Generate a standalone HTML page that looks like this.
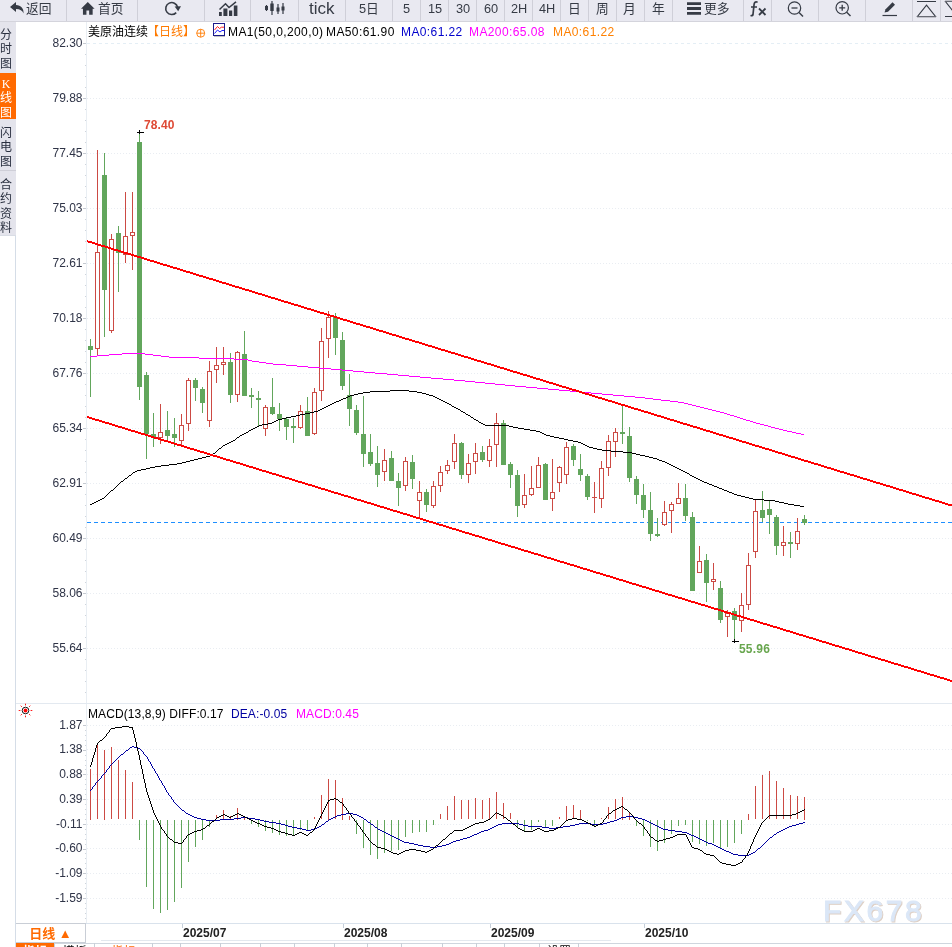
<!DOCTYPE html>
<html lang="zh-CN">
<head>
<meta charset="utf-8">
<title>美原油连续 日线</title>
<style>
html,body{margin:0;padding:0;background:#fff;}
body{width:952px;height:947px;position:relative;overflow:hidden;font-family:"Liberation Sans","Noto Sans CJK SC",sans-serif;color:#333;}
#tb{position:absolute;left:0;top:0;width:952px;height:21px;background:#e9e9f1;border-bottom:1px solid #d4d4dc;box-sizing:content-box;}
#tb .b{position:absolute;top:0;height:21px;border-left:1px solid #cfcfd8;box-shadow:inset 1px 0 0 #f6f6fa;box-sizing:border-box;}
#tb .t{position:absolute;top:-0.5px;height:17px;line-height:17px;font-size:12.75px;color:#363b45;white-space:nowrap;}
#tb svg{position:absolute;overflow:visible;}
#side{position:absolute;left:0;top:22px;width:16px;height:213px;background:#e4e4ec;border-bottom:1px solid #d9dde5;}
#side .tab{position:absolute;left:0;width:16px;font-size:12px;line-height:14.4px;text-align:center;color:#2a3040;}
#side .tab span{display:block;width:15px;margin-left:-1.5px;color:inherit;position:relative;top:1px;}
#side .on{background:#ff6a00;color:#fff;}
.hd{position:absolute;top:24px;height:16px;line-height:16px;font-size:12px;white-space:nowrap;letter-spacing:0.4px;}
.mh{position:absolute;top:706px;height:16px;line-height:16px;font-size:12px;white-space:nowrap;letter-spacing:0.1px;}
#per{position:absolute;left:16px;top:923px;width:70px;height:20px;border:1px solid #c9ced6;border-left:none;text-align:center;font-size:13px;line-height:20px;font-weight:bold;color:#ff6a00;box-sizing:border-box;}
#tabs{position:absolute;left:16px;top:943px;height:20px;white-space:nowrap;font-size:12px;}
#tabs span{position:absolute;top:0;height:20px;line-height:18px;border-right:1px solid #c9d0d8;box-sizing:border-box;text-align:center;}
</style>
</head>
<body>
<svg id="chart" width="952" height="947" viewBox="0 0 952 947" style="position:absolute;left:0;top:0">
<g shape-rendering="crispEdges" fill="none">
<line x1="87" x2="952" y1="43.5" y2="43.5" stroke="#e4eef5" stroke-width="1" stroke-dasharray="3 3"/>
<line x1="87" x2="952" y1="98.5" y2="98.5" stroke="#e9edf2" stroke-width="1" stroke-dasharray="1 2"/>
<line x1="87" x2="952" y1="153.5" y2="153.5" stroke="#e9edf2" stroke-width="1" stroke-dasharray="1 2"/>
<line x1="87" x2="952" y1="208.5" y2="208.5" stroke="#e9edf2" stroke-width="1" stroke-dasharray="1 2"/>
<line x1="87" x2="952" y1="263.5" y2="263.5" stroke="#e9edf2" stroke-width="1" stroke-dasharray="1 2"/>
<line x1="87" x2="952" y1="318.5" y2="318.5" stroke="#e9edf2" stroke-width="1" stroke-dasharray="1 2"/>
<line x1="87" x2="952" y1="373.5" y2="373.5" stroke="#e9edf2" stroke-width="1" stroke-dasharray="1 2"/>
<line x1="87" x2="952" y1="428.5" y2="428.5" stroke="#e9edf2" stroke-width="1" stroke-dasharray="1 2"/>
<line x1="87" x2="952" y1="483.5" y2="483.5" stroke="#e9edf2" stroke-width="1" stroke-dasharray="1 2"/>
<line x1="87" x2="952" y1="538.5" y2="538.5" stroke="#e9edf2" stroke-width="1" stroke-dasharray="1 2"/>
<line x1="87" x2="952" y1="593.5" y2="593.5" stroke="#e9edf2" stroke-width="1" stroke-dasharray="1 2"/>
<line x1="87" x2="952" y1="648.5" y2="648.5" stroke="#e9edf2" stroke-width="1" stroke-dasharray="1 2"/>
<line x1="87" x2="952" y1="725.5" y2="725.5" stroke="#e9edf2" stroke-width="1" stroke-dasharray="1 2"/>
<line x1="87" x2="952" y1="749.5" y2="749.5" stroke="#e9edf2" stroke-width="1" stroke-dasharray="1 2"/>
<line x1="87" x2="952" y1="774.5" y2="774.5" stroke="#e9edf2" stroke-width="1" stroke-dasharray="1 2"/>
<line x1="87" x2="952" y1="799.5" y2="799.5" stroke="#e9edf2" stroke-width="1" stroke-dasharray="1 2"/>
<line x1="87" x2="952" y1="824.5" y2="824.5" stroke="#e9edf2" stroke-width="1" stroke-dasharray="1 2"/>
<line x1="87" x2="952" y1="848.5" y2="848.5" stroke="#e9edf2" stroke-width="1" stroke-dasharray="1 2"/>
<line x1="87" x2="952" y1="873.5" y2="873.5" stroke="#e9edf2" stroke-width="1" stroke-dasharray="1 2"/>
<line x1="87" x2="952" y1="898.5" y2="898.5" stroke="#e9edf2" stroke-width="1" stroke-dasharray="1 2"/>
<line x1="86.5" x2="86.5" y1="22" y2="923" stroke="#e9eef3"/>
<line x1="15.5" x2="15.5" y1="236" y2="947" stroke="#d5dde7"/>
<path d="M85 54.5H86M85 65.5H86M85 76.5H86M85 87.5H86M85 109.5H86M85 120.5H86M85 131.5H86M85 142.5H86M85 164.5H86M85 175.5H86M85 186.5H86M85 197.5H86M85 219.5H86M85 230.5H86M85 241.5H86M85 252.5H86M85 274.5H86M85 285.5H86M85 296.5H86M85 307.5H86M85 329.5H86M85 340.5H86M85 351.5H86M85 362.5H86M85 384.5H86M85 395.5H86M85 406.5H86M85 417.5H86M85 439.5H86M85 450.5H86M85 461.5H86M85 472.5H86M85 494.5H86M85 505.5H86M85 516.5H86M85 527.5H86M85 549.5H86M85 560.5H86M85 571.5H86M85 582.5H86M85 604.5H86M85 615.5H86M85 626.5H86M85 637.5H86M85 659.5H86M85 670.5H86M85 681.5H86M85 692.5H86M85 730.5H86M85 735.5H86M85 740.5H86M85 745.5H86M85 755.5H86M85 760.5H86M85 765.5H86M85 769.5H86M85 779.5H86M85 784.5H86M85 789.5H86M85 794.5H86M85 804.5H86M85 809.5H86M85 814.5H86M85 819.5H86M85 829.5H86M85 834.5H86M85 839.5H86M85 844.5H86M85 853.5H86M85 858.5H86M85 863.5H86M85 868.5H86M85 878.5H86M85 883.5H86M85 888.5H86M85 893.5H86M85 903.5H86M85 908.5H86M85 913.5H86M85 918.5H86" stroke="#cfd4db"/>
<path d="M83 43.5H86M83 98.5H86M83 153.5H86M83 208.5H86M83 263.5H86M83 318.5H86M83 373.5H86M83 428.5H86M83 483.5H86M83 538.5H86M83 593.5H86M83 648.5H86M83 725.5H86M83 750.5H86M83 774.5H86M83 799.5H86M83 824.5H86M83 849.5H86M83 873.5H86M83 898.5H86" stroke="#c6cad1"/>
<line x1="16" x2="952" y1="703.5" y2="703.5" stroke="#e3e9f0"/>
<line x1="16" x2="952" y1="923.5" y2="923.5" stroke="#d9e2ec"/>
<line x1="16" x2="952" y1="943.5" y2="943.5" stroke="#cfd6de"/>
</g>
<line x1="87" x2="952" y1="522.5" y2="522.5" stroke="#1e8fff" stroke-width="1" stroke-dasharray="4 3" shape-rendering="crispEdges"/>
<g shape-rendering="crispEdges">
<rect x="90" y="339" width="1" height="58" fill="#62a65c"/>
<rect x="88" y="346" width="5" height="4" fill="#62a65c"/>
<rect x="97" y="150" width="1" height="102" fill="#cc4a44"/>
<rect x="97" y="349" width="1" height="7" fill="#cc4a44"/>
<rect x="95.5" y="252.5" width="4" height="96" fill="#fff" stroke="#cc4a44" stroke-width="1"/>
<rect x="104" y="153" width="1" height="184" fill="#62a65c"/>
<rect x="102" y="175" width="5" height="115" fill="#62a65c"/>
<rect x="111" y="234" width="1" height="5" fill="#cc4a44"/>
<rect x="111" y="331" width="1" height="2" fill="#cc4a44"/>
<rect x="109.5" y="239.5" width="4" height="91" fill="#fff" stroke="#cc4a44" stroke-width="1"/>
<rect x="118" y="226" width="1" height="66" fill="#62a65c"/>
<rect x="116" y="233" width="5" height="20" fill="#62a65c"/>
<rect x="125" y="192" width="1" height="44" fill="#cc4a44"/>
<rect x="125" y="255" width="1" height="8" fill="#cc4a44"/>
<rect x="123.5" y="236.5" width="4" height="18" fill="#fff" stroke="#cc4a44" stroke-width="1"/>
<rect x="132" y="192" width="1" height="40" fill="#cc4a44"/>
<rect x="132" y="236" width="1" height="34" fill="#cc4a44"/>
<rect x="130.5" y="232.5" width="4" height="3" fill="#fff" stroke="#cc4a44" stroke-width="1"/>
<rect x="139" y="132" width="1" height="268" fill="#62a65c"/>
<rect x="137" y="142" width="5" height="245" fill="#62a65c"/>
<rect x="146" y="372" width="1" height="87" fill="#62a65c"/>
<rect x="144" y="375" width="5" height="59" fill="#62a65c"/>
<rect x="153" y="413" width="1" height="34" fill="#62a65c"/>
<rect x="151" y="434" width="5" height="4" fill="#62a65c"/>
<rect x="160" y="404" width="1" height="28" fill="#cc4a44"/>
<rect x="160" y="438" width="1" height="6" fill="#cc4a44"/>
<rect x="158.5" y="432.5" width="4" height="5" fill="#fff" stroke="#cc4a44" stroke-width="1"/>
<rect x="167" y="411" width="1" height="29" fill="#62a65c"/>
<rect x="165" y="430" width="5" height="6" fill="#62a65c"/>
<rect x="174" y="418" width="1" height="29" fill="#62a65c"/>
<rect x="172" y="434" width="5" height="4" fill="#62a65c"/>
<rect x="181" y="414" width="1" height="11" fill="#cc4a44"/>
<rect x="181" y="441" width="1" height="4" fill="#cc4a44"/>
<rect x="179.5" y="425.5" width="4" height="15" fill="#fff" stroke="#cc4a44" stroke-width="1"/>
<rect x="188" y="378" width="1" height="2" fill="#cc4a44"/>
<rect x="188" y="424" width="1" height="7" fill="#cc4a44"/>
<rect x="186.5" y="380.5" width="4" height="43" fill="#fff" stroke="#cc4a44" stroke-width="1"/>
<rect x="195" y="378" width="1" height="23" fill="#62a65c"/>
<rect x="193" y="380" width="5" height="8" fill="#62a65c"/>
<rect x="202" y="387" width="1" height="26" fill="#62a65c"/>
<rect x="200" y="389" width="5" height="14" fill="#62a65c"/>
<rect x="209" y="361" width="1" height="10" fill="#cc4a44"/>
<rect x="209" y="421" width="1" height="6" fill="#cc4a44"/>
<rect x="207.5" y="371.5" width="4" height="49" fill="#fff" stroke="#cc4a44" stroke-width="1"/>
<rect x="216" y="347" width="1" height="18" fill="#cc4a44"/>
<rect x="216" y="370" width="1" height="13" fill="#cc4a44"/>
<rect x="214.5" y="365.5" width="4" height="4" fill="#fff" stroke="#cc4a44" stroke-width="1"/>
<rect x="223" y="347" width="1" height="15" fill="#cc4a44"/>
<rect x="223" y="365" width="1" height="10" fill="#cc4a44"/>
<rect x="221.5" y="362.5" width="4" height="2" fill="#fff" stroke="#cc4a44" stroke-width="1"/>
<rect x="230" y="353" width="1" height="50" fill="#62a65c"/>
<rect x="228" y="362" width="5" height="33" fill="#62a65c"/>
<rect x="237" y="351" width="1" height="1" fill="#cc4a44"/>
<rect x="237" y="395" width="1" height="7" fill="#cc4a44"/>
<rect x="235.5" y="352.5" width="4" height="42" fill="#fff" stroke="#cc4a44" stroke-width="1"/>
<rect x="244" y="331" width="1" height="65" fill="#62a65c"/>
<rect x="242" y="354" width="5" height="42" fill="#62a65c"/>
<rect x="251" y="388" width="1" height="20" fill="#62a65c"/>
<rect x="249" y="395" width="5" height="2" fill="#62a65c"/>
<rect x="258" y="391" width="1" height="35" fill="#62a65c"/>
<rect x="256" y="398" width="5" height="2" fill="#62a65c"/>
<rect x="265" y="405" width="1" height="2" fill="#cc4a44"/>
<rect x="265" y="429" width="1" height="7" fill="#cc4a44"/>
<rect x="263.5" y="407.5" width="4" height="21" fill="#fff" stroke="#cc4a44" stroke-width="1"/>
<rect x="272" y="378" width="1" height="37" fill="#62a65c"/>
<rect x="270" y="407" width="5" height="7" fill="#62a65c"/>
<rect x="279" y="403" width="1" height="28" fill="#62a65c"/>
<rect x="277" y="414" width="5" height="5" fill="#62a65c"/>
<rect x="286" y="417" width="1" height="23" fill="#62a65c"/>
<rect x="284" y="419" width="5" height="8" fill="#62a65c"/>
<rect x="293" y="418" width="1" height="25" fill="#62a65c"/>
<rect x="291" y="426" width="5" height="2" fill="#62a65c"/>
<rect x="300" y="405" width="1" height="6" fill="#cc4a44"/>
<rect x="300" y="428" width="1" height="1" fill="#cc4a44"/>
<rect x="298.5" y="411.5" width="4" height="16" fill="#fff" stroke="#cc4a44" stroke-width="1"/>
<rect x="307" y="397" width="1" height="39" fill="#62a65c"/>
<rect x="305" y="411" width="5" height="25" fill="#62a65c"/>
<rect x="314" y="388" width="1" height="4" fill="#cc4a44"/>
<rect x="314" y="434" width="1" height="1" fill="#cc4a44"/>
<rect x="312.5" y="392.5" width="4" height="41" fill="#fff" stroke="#cc4a44" stroke-width="1"/>
<rect x="321" y="328" width="1" height="13" fill="#cc4a44"/>
<rect x="321" y="391" width="1" height="10" fill="#cc4a44"/>
<rect x="319.5" y="341.5" width="4" height="49" fill="#fff" stroke="#cc4a44" stroke-width="1"/>
<rect x="328" y="311" width="1" height="6" fill="#cc4a44"/>
<rect x="328" y="339" width="1" height="19" fill="#cc4a44"/>
<rect x="326.5" y="317.5" width="4" height="21" fill="#fff" stroke="#cc4a44" stroke-width="1"/>
<rect x="335" y="313" width="1" height="42" fill="#62a65c"/>
<rect x="333" y="317" width="5" height="21" fill="#62a65c"/>
<rect x="342" y="332" width="1" height="58" fill="#62a65c"/>
<rect x="340" y="340" width="5" height="46" fill="#62a65c"/>
<rect x="349" y="374" width="1" height="52" fill="#62a65c"/>
<rect x="347" y="395" width="5" height="14" fill="#62a65c"/>
<rect x="356" y="405" width="1" height="30" fill="#62a65c"/>
<rect x="354" y="410" width="5" height="23" fill="#62a65c"/>
<rect x="363" y="396" width="1" height="71" fill="#62a65c"/>
<rect x="361" y="434" width="5" height="20" fill="#62a65c"/>
<rect x="370" y="434" width="1" height="32" fill="#62a65c"/>
<rect x="368" y="452" width="5" height="12" fill="#62a65c"/>
<rect x="377" y="446" width="1" height="41" fill="#62a65c"/>
<rect x="375" y="463" width="5" height="12" fill="#62a65c"/>
<rect x="384" y="449" width="1" height="11" fill="#cc4a44"/>
<rect x="384" y="472" width="1" height="9" fill="#cc4a44"/>
<rect x="382.5" y="460.5" width="4" height="11" fill="#fff" stroke="#cc4a44" stroke-width="1"/>
<rect x="391" y="451" width="1" height="30" fill="#62a65c"/>
<rect x="389" y="458" width="5" height="23" fill="#62a65c"/>
<rect x="398" y="473" width="1" height="33" fill="#62a65c"/>
<rect x="396" y="481" width="5" height="7" fill="#62a65c"/>
<rect x="405" y="457" width="1" height="4" fill="#cc4a44"/>
<rect x="405" y="486" width="1" height="5" fill="#cc4a44"/>
<rect x="403.5" y="461.5" width="4" height="24" fill="#fff" stroke="#cc4a44" stroke-width="1"/>
<rect x="412" y="455" width="1" height="34" fill="#62a65c"/>
<rect x="410" y="462" width="5" height="17" fill="#62a65c"/>
<rect x="419" y="481" width="1" height="11" fill="#cc4a44"/>
<rect x="419" y="501" width="1" height="17" fill="#cc4a44"/>
<rect x="417.5" y="492.5" width="4" height="8" fill="#fff" stroke="#cc4a44" stroke-width="1"/>
<rect x="426" y="489" width="1" height="23" fill="#62a65c"/>
<rect x="424" y="492" width="5" height="13" fill="#62a65c"/>
<rect x="433" y="481" width="1" height="5" fill="#cc4a44"/>
<rect x="433" y="506" width="1" height="2" fill="#cc4a44"/>
<rect x="431.5" y="486.5" width="4" height="19" fill="#fff" stroke="#cc4a44" stroke-width="1"/>
<rect x="440" y="466" width="1" height="6" fill="#cc4a44"/>
<rect x="440" y="486" width="1" height="6" fill="#cc4a44"/>
<rect x="438.5" y="472.5" width="4" height="13" fill="#fff" stroke="#cc4a44" stroke-width="1"/>
<rect x="447" y="460" width="1" height="5" fill="#cc4a44"/>
<rect x="447" y="471" width="1" height="3" fill="#cc4a44"/>
<rect x="445.5" y="465.5" width="4" height="5" fill="#fff" stroke="#cc4a44" stroke-width="1"/>
<rect x="454" y="434" width="1" height="9" fill="#cc4a44"/>
<rect x="454" y="462" width="1" height="7" fill="#cc4a44"/>
<rect x="452.5" y="443.5" width="4" height="18" fill="#fff" stroke="#cc4a44" stroke-width="1"/>
<rect x="461" y="442" width="1" height="37" fill="#62a65c"/>
<rect x="459" y="443" width="5" height="32" fill="#62a65c"/>
<rect x="468" y="454" width="1" height="9" fill="#cc4a44"/>
<rect x="468" y="475" width="1" height="8" fill="#cc4a44"/>
<rect x="466.5" y="463.5" width="4" height="11" fill="#fff" stroke="#cc4a44" stroke-width="1"/>
<rect x="475" y="443" width="1" height="10" fill="#cc4a44"/>
<rect x="475" y="462" width="1" height="12" fill="#cc4a44"/>
<rect x="473.5" y="453.5" width="4" height="8" fill="#fff" stroke="#cc4a44" stroke-width="1"/>
<rect x="482" y="446" width="1" height="16" fill="#62a65c"/>
<rect x="480" y="452" width="5" height="8" fill="#62a65c"/>
<rect x="489" y="439" width="1" height="7" fill="#cc4a44"/>
<rect x="489" y="461" width="1" height="6" fill="#cc4a44"/>
<rect x="487.5" y="446.5" width="4" height="14" fill="#fff" stroke="#cc4a44" stroke-width="1"/>
<rect x="496" y="413" width="1" height="10" fill="#cc4a44"/>
<rect x="496" y="445" width="1" height="22" fill="#cc4a44"/>
<rect x="494.5" y="423.5" width="4" height="21" fill="#fff" stroke="#cc4a44" stroke-width="1"/>
<rect x="503" y="420" width="1" height="45" fill="#62a65c"/>
<rect x="501" y="423" width="5" height="42" fill="#62a65c"/>
<rect x="510" y="462" width="1" height="26" fill="#62a65c"/>
<rect x="508" y="464" width="5" height="11" fill="#62a65c"/>
<rect x="517" y="470" width="1" height="47" fill="#62a65c"/>
<rect x="515" y="475" width="5" height="31" fill="#62a65c"/>
<rect x="524" y="474" width="1" height="21" fill="#cc4a44"/>
<rect x="524" y="505" width="1" height="3" fill="#cc4a44"/>
<rect x="522.5" y="495.5" width="4" height="9" fill="#fff" stroke="#cc4a44" stroke-width="1"/>
<rect x="531" y="466" width="1" height="22" fill="#cc4a44"/>
<rect x="531" y="495" width="1" height="1" fill="#cc4a44"/>
<rect x="529.5" y="488.5" width="4" height="6" fill="#fff" stroke="#cc4a44" stroke-width="1"/>
<rect x="538" y="457" width="1" height="8" fill="#cc4a44"/>
<rect x="536.5" y="465.5" width="4" height="22" fill="#fff" stroke="#cc4a44" stroke-width="1"/>
<rect x="545" y="463" width="1" height="37" fill="#62a65c"/>
<rect x="543" y="464" width="5" height="36" fill="#62a65c"/>
<rect x="552" y="459" width="1" height="33" fill="#cc4a44"/>
<rect x="552" y="499" width="1" height="12" fill="#cc4a44"/>
<rect x="550.5" y="492.5" width="4" height="6" fill="#fff" stroke="#cc4a44" stroke-width="1"/>
<rect x="559" y="466" width="1" height="1" fill="#cc4a44"/>
<rect x="559" y="483" width="1" height="9" fill="#cc4a44"/>
<rect x="557.5" y="467.5" width="4" height="15" fill="#fff" stroke="#cc4a44" stroke-width="1"/>
<rect x="566" y="442" width="1" height="5" fill="#cc4a44"/>
<rect x="566" y="475" width="1" height="9" fill="#cc4a44"/>
<rect x="564.5" y="447.5" width="4" height="27" fill="#fff" stroke="#cc4a44" stroke-width="1"/>
<rect x="573" y="444" width="1" height="22" fill="#62a65c"/>
<rect x="571" y="446" width="5" height="14" fill="#62a65c"/>
<rect x="580" y="454" width="1" height="27" fill="#62a65c"/>
<rect x="578" y="469" width="5" height="6" fill="#62a65c"/>
<rect x="587" y="474" width="1" height="26" fill="#62a65c"/>
<rect x="585" y="476" width="5" height="21" fill="#62a65c"/>
<rect x="594" y="482" width="1" height="15" fill="#cc4a44"/>
<rect x="594" y="498" width="1" height="15" fill="#cc4a44"/>
<rect x="592" y="497" width="5" height="1" fill="#cc4a44"/>
<rect x="601" y="461" width="1" height="7" fill="#cc4a44"/>
<rect x="601" y="499" width="1" height="9" fill="#cc4a44"/>
<rect x="599.5" y="468.5" width="4" height="30" fill="#fff" stroke="#cc4a44" stroke-width="1"/>
<rect x="608" y="435" width="1" height="6" fill="#cc4a44"/>
<rect x="608" y="468" width="1" height="8" fill="#cc4a44"/>
<rect x="606.5" y="441.5" width="4" height="26" fill="#fff" stroke="#cc4a44" stroke-width="1"/>
<rect x="615" y="428" width="1" height="4" fill="#cc4a44"/>
<rect x="615" y="442" width="1" height="15" fill="#cc4a44"/>
<rect x="613.5" y="432.5" width="4" height="9" fill="#fff" stroke="#cc4a44" stroke-width="1"/>
<rect x="622" y="405" width="1" height="39" fill="#62a65c"/>
<rect x="620" y="432" width="5" height="2" fill="#62a65c"/>
<rect x="629" y="427" width="1" height="55" fill="#62a65c"/>
<rect x="627" y="436" width="5" height="42" fill="#62a65c"/>
<rect x="636" y="476" width="1" height="28" fill="#62a65c"/>
<rect x="634" y="479" width="5" height="16" fill="#62a65c"/>
<rect x="643" y="484" width="1" height="34" fill="#62a65c"/>
<rect x="641" y="495" width="5" height="15" fill="#62a65c"/>
<rect x="650" y="492" width="1" height="49" fill="#62a65c"/>
<rect x="648" y="510" width="5" height="24" fill="#62a65c"/>
<rect x="657" y="518" width="1" height="19" fill="#62a65c"/>
<rect x="655" y="534" width="5" height="2" fill="#62a65c"/>
<rect x="664" y="501" width="1" height="11" fill="#cc4a44"/>
<rect x="664" y="525" width="1" height="1" fill="#cc4a44"/>
<rect x="662.5" y="512.5" width="4" height="12" fill="#fff" stroke="#cc4a44" stroke-width="1"/>
<rect x="671" y="502" width="1" height="2" fill="#cc4a44"/>
<rect x="671" y="511" width="1" height="22" fill="#cc4a44"/>
<rect x="669.5" y="504.5" width="4" height="6" fill="#fff" stroke="#cc4a44" stroke-width="1"/>
<rect x="678" y="483" width="1" height="15" fill="#cc4a44"/>
<rect x="676.5" y="498.5" width="4" height="5" fill="#fff" stroke="#cc4a44" stroke-width="1"/>
<rect x="685" y="484" width="1" height="37" fill="#62a65c"/>
<rect x="683" y="498" width="5" height="18" fill="#62a65c"/>
<rect x="692" y="512" width="1" height="79" fill="#62a65c"/>
<rect x="690" y="517" width="5" height="74" fill="#62a65c"/>
<rect x="699" y="546" width="1" height="15" fill="#cc4a44"/>
<rect x="697.5" y="561.5" width="4" height="11" fill="#fff" stroke="#cc4a44" stroke-width="1"/>
<rect x="706" y="554" width="1" height="48" fill="#62a65c"/>
<rect x="704" y="560" width="5" height="23" fill="#62a65c"/>
<rect x="713" y="563" width="1" height="16" fill="#cc4a44"/>
<rect x="713" y="582" width="1" height="8" fill="#cc4a44"/>
<rect x="711.5" y="579.5" width="4" height="2" fill="#fff" stroke="#cc4a44" stroke-width="1"/>
<rect x="720" y="581" width="1" height="42" fill="#62a65c"/>
<rect x="718" y="588" width="5" height="32" fill="#62a65c"/>
<rect x="727" y="610" width="1" height="3" fill="#cc4a44"/>
<rect x="727" y="617" width="1" height="20" fill="#cc4a44"/>
<rect x="725.5" y="613.5" width="4" height="3" fill="#fff" stroke="#cc4a44" stroke-width="1"/>
<rect x="734" y="608" width="1" height="34" fill="#62a65c"/>
<rect x="732" y="611" width="5" height="9" fill="#62a65c"/>
<rect x="741" y="593" width="1" height="12" fill="#cc4a44"/>
<rect x="741" y="621" width="1" height="11" fill="#cc4a44"/>
<rect x="739.5" y="605.5" width="4" height="15" fill="#fff" stroke="#cc4a44" stroke-width="1"/>
<rect x="748" y="553" width="1" height="12" fill="#cc4a44"/>
<rect x="748" y="605" width="1" height="5" fill="#cc4a44"/>
<rect x="746.5" y="565.5" width="4" height="39" fill="#fff" stroke="#cc4a44" stroke-width="1"/>
<rect x="755" y="499" width="1" height="12" fill="#cc4a44"/>
<rect x="755" y="552" width="1" height="6" fill="#cc4a44"/>
<rect x="753.5" y="511.5" width="4" height="40" fill="#fff" stroke="#cc4a44" stroke-width="1"/>
<rect x="762" y="491" width="1" height="31" fill="#62a65c"/>
<rect x="760" y="510" width="5" height="8" fill="#62a65c"/>
<rect x="769" y="501" width="1" height="33" fill="#62a65c"/>
<rect x="767" y="509" width="5" height="6" fill="#62a65c"/>
<rect x="776" y="515" width="1" height="40" fill="#62a65c"/>
<rect x="774" y="517" width="5" height="29" fill="#62a65c"/>
<rect x="783" y="526" width="1" height="16" fill="#cc4a44"/>
<rect x="783" y="546" width="1" height="10" fill="#cc4a44"/>
<rect x="781.5" y="542.5" width="4" height="3" fill="#fff" stroke="#cc4a44" stroke-width="1"/>
<rect x="790" y="532" width="1" height="26" fill="#62a65c"/>
<rect x="788" y="542" width="5" height="2" fill="#62a65c"/>
<rect x="797" y="518" width="1" height="13" fill="#cc4a44"/>
<rect x="797" y="544" width="1" height="6" fill="#cc4a44"/>
<rect x="795.5" y="531.5" width="4" height="12" fill="#fff" stroke="#cc4a44" stroke-width="1"/>
<rect x="804" y="515" width="1" height="10" fill="#62a65c"/>
<rect x="802" y="519" width="5" height="4" fill="#62a65c"/>
</g>
<path d="M122 353.5h23M109 354.5h13M145 354.5h8M97 355.5h12M153 355.5h8M90 356.5h7M161 356.5h8M169 357.5h30M199 358.5h35M234 359.5h14M248 360.5h4M252 361.5h7M259 362.5h7M266 363.5h7M273 364.5h13M286 365.5h11M297 366.5h11M308 367.5h12M320 368.5h11M331 369.5h11M342 370.5h11M353 371.5h11M364 372.5h11M375 373.5h12M387 374.5h11M398 375.5h11M409 376.5h11M420 377.5h11M431 378.5h12M443 379.5h11M454 380.5h11M465 381.5h10M475 382.5h10M485 383.5h10M495 384.5h10M505 385.5h10M515 386.5h11M526 387.5h11M537 388.5h11M548 389.5h11M559 390.5h11M570 391.5h10M580 392.5h11M591 393.5h11M602 394.5h11M613 395.5h11M624 396.5h11M635 397.5h10M645 398.5h8M653 399.5h8M661 400.5h9M670 401.5h8M678 402.5h6M684 403.5h4M688 404.5h4M692 405.5h4M696 406.5h4M700 407.5h4M704 408.5h4M708 409.5h4M712 410.5h4M716 411.5h4M720 412.5h4M724 413.5h3M727 414.5h3M730 415.5h4M734 416.5h3M737 417.5h3M740 418.5h3M743 419.5h3M746 420.5h4M750 421.5h3M753 422.5h3M756 423.5h4M760 424.5h4M764 425.5h4M768 426.5h3M771 427.5h4M775 428.5h4M779 429.5h4M783 430.5h4M787 431.5h5M792 432.5h4M796 433.5h5M801 434.5h3" fill="none" stroke="#ff00ff" stroke-width="1" shape-rendering="crispEdges"/>
<path d="M390 390.5h19M370 391.5h20M409 391.5h8M363 392.5h7M417 392.5h5M358 393.5h5M422 393.5h4M354 394.5h4M426 394.5h3M350 395.5h4M429 395.5h4M348 396.5h2M433 396.5h2M346 397.5h2M435 397.5h2M343 398.5h3M437 398.5h2M341 399.5h2M439 399.5h2M339 400.5h2M441 400.5h2M336 401.5h3M443 401.5h2M334 402.5h2M445 402.5h2M332 403.5h2M447 403.5h2M330 404.5h2M449 404.5h2M328 405.5h2M451 405.5h1M326 406.5h2M452 406.5h2M324 407.5h2M454 407.5h2M322 408.5h2M456 408.5h2M320 409.5h2M458 409.5h2M318 410.5h2M460 410.5h1M314 411.5h4M461 411.5h2M310 412.5h4M463 412.5h2M305 413.5h5M465 413.5h1M300 414.5h5M466 414.5h2M296 415.5h4M468 415.5h2M291 416.5h5M470 416.5h1M286 417.5h5M471 417.5h2M282 418.5h4M473 418.5h1M278 419.5h4M474 419.5h2M276 420.5h2M476 420.5h2M274 421.5h2M478 421.5h1M272 422.5h2M479 422.5h2M268 423.5h4M481 423.5h2M262 424.5h6M483 424.5h2M259 425.5h3M485 425.5h24M257 426.5h2M509 426.5h4M255 427.5h2M513 427.5h5M253 428.5h2M518 428.5h6M251 429.5h2M524 429.5h6M249 430.5h2M530 430.5h6M248 431.5h1M536 431.5h4M246 432.5h2M540 432.5h2M244 433.5h2M542 433.5h2M242 434.5h2M544 434.5h2M240 435.5h2M546 435.5h4M239 436.5h1M550 436.5h4M237 437.5h2M554 437.5h5M236 438.5h1M559 438.5h5M235 439.5h1M564 439.5h4M233 440.5h2M568 440.5h5M231 441.5h2M573 441.5h5M229 442.5h2M578 442.5h3M227 443.5h2M581 443.5h2M225 444.5h2M583 444.5h2M223 445.5h2M585 445.5h2M222 446.5h1M587 446.5h2M221 447.5h1M589 447.5h4M219 448.5h2M593 448.5h4M218 449.5h1M597 449.5h5M217 450.5h1M602 450.5h9M216 451.5h1M611 451.5h12M215 452.5h1M623 452.5h9M213 453.5h2M632 453.5h4M212 454.5h1M636 454.5h4M210 455.5h2M640 455.5h5M206 456.5h4M645 456.5h4M202 457.5h4M649 457.5h4M198 458.5h4M653 458.5h4M194 459.5h4M657 459.5h2M190 460.5h4M659 460.5h3M186 461.5h4M662 461.5h3M182 462.5h4M665 462.5h2M177 463.5h5M667 463.5h2M169 464.5h8M669 464.5h2M161 465.5h8M671 465.5h2M155 466.5h6M673 466.5h2M150 467.5h5M675 467.5h2M146 468.5h4M677 468.5h2M141 469.5h5M679 469.5h2M137 470.5h4M681 470.5h2M135 471.5h2M683 471.5h2M133 472.5h2M685 472.5h2M132 473.5h1M687 473.5h2M131 474.5h1M689 474.5h1M129 475.5h2M690 475.5h2M128 476.5h1M692 476.5h2M127 477.5h1M694 477.5h2M125 478.5h2M696 478.5h2M124 479.5h1M698 479.5h2M123 480.5h1M700 480.5h2M121 481.5h2M702 481.5h2M120 482.5h1M704 482.5h3M119 483.5h1M707 483.5h2M118 484.5h1M709 484.5h3M117 485.5h1M712 485.5h2M116 486.5h1M714 486.5h3M115 487.5h1M717 487.5h2M114 488.5h1M719 488.5h3M113 489.5h1M722 489.5h2M111 490.5h2M724 490.5h3M110 491.5h1M727 491.5h2M109 492.5h1M729 492.5h3M108 493.5h1M732 493.5h2M107 494.5h1M734 494.5h3M106 495.5h1M737 495.5h4M105 496.5h1M741 496.5h4M104 497.5h1M745 497.5h4M102 498.5h2M749 498.5h4M100 499.5h2M753 499.5h11M98 500.5h2M764 500.5h11M96 501.5h2M775 501.5h4M94 502.5h2M779 502.5h5M92 503.5h2M784 503.5h4M90 504.5h2M788 504.5h6M794 505.5h6M800 506.5h4" fill="none" stroke="#000" stroke-width="1" shape-rendering="crispEdges"/>
<path d="M87 241h1M88 242h4M92 243h3M95 244h3M98 245h3M101 246h4M105 247h3M108 248h3M111 249h3M114 250h4M118 251h3M121 252h3M124 253h4M128 254h3M131 255h3M134 256h3M137 257h4M141 258h3M144 259h3M147 260h3M150 261h4M154 262h3M157 263h3M160 264h3M163 265h4M167 266h3M170 267h3M173 268h4M177 269h3M180 270h3M183 271h3M186 272h4M190 273h3M193 274h3M196 275h3M199 276h4M203 277h3M206 278h3M209 279h4M213 280h3M216 281h3M219 282h3M222 283h4M226 284h3M229 285h3M232 286h3M235 287h4M239 288h3M242 289h3M245 290h4M249 291h3M252 292h3M255 293h3M258 294h4M262 295h3M265 296h3M268 297h3M271 298h4M275 299h3M278 300h3M281 301h3M284 302h4M288 303h3M291 304h3M294 305h4M298 306h3M301 307h3M304 308h3M307 309h4M311 310h3M314 311h3M317 312h3M320 313h4M324 314h3M327 315h3M330 316h4M334 317h3M337 318h3M340 319h3M343 320h4M347 321h3M350 322h3M353 323h3M356 324h4M360 325h3M363 326h3M366 327h4M370 328h3M373 329h3M376 330h3M379 331h4M383 332h3M386 333h3M389 334h3M392 335h4M396 336h3M399 337h3M402 338h3M405 339h4M409 340h3M412 341h3M415 342h4M419 343h3M422 344h3M425 345h3M428 346h4M432 347h3M435 348h3M438 349h3M441 350h4M445 351h3M448 352h3M451 353h4M455 354h3M458 355h3M461 356h3M464 357h4M468 358h3M471 359h3M474 360h3M477 361h4M481 362h3M484 363h3M487 364h4M491 365h3M494 366h3M497 367h3M500 368h4M504 369h3M507 370h3M510 371h3M513 372h4M517 373h3M520 374h3M523 375h4M527 376h3M530 377h3M533 378h3M536 379h4M540 380h3M543 381h3M546 382h3M549 383h4M553 384h3M556 385h3M559 386h3M562 387h4M566 388h3M569 389h3M572 390h4M576 391h3M579 392h3M582 393h3M585 394h4M589 395h3M592 396h3M595 397h3M598 398h4M602 399h3M605 400h3M608 401h4M612 402h3M615 403h3M618 404h3M621 405h4M625 406h3M628 407h3M631 408h3M634 409h4M638 410h3M641 411h3M644 412h4M648 413h3M651 414h3M654 415h3M657 416h4M661 417h3M664 418h3M667 419h3M670 420h4M674 421h3M677 422h3M680 423h3M683 424h4M687 425h3M690 426h3M693 427h4M697 428h3M700 429h3M703 430h3M706 431h4M710 432h3M713 433h3M716 434h3M719 435h4M723 436h3M726 437h3M729 438h4M733 439h3M736 440h3M739 441h3M742 442h4M746 443h3M749 444h3M752 445h3M755 446h4M759 447h3M762 448h3M765 449h4M769 450h3M772 451h3M775 452h3M778 453h4M782 454h3M785 455h3M788 456h3M791 457h4M795 458h3M798 459h3M801 460h3M804 461h4M808 462h3M811 463h3M814 464h4M818 465h3M821 466h3M824 467h3M827 468h4M831 469h3M834 470h3M837 471h3M840 472h4M844 473h3M847 474h3M850 475h4M854 476h3M857 477h3M860 478h3M863 479h4M867 480h3M870 481h3M873 482h3M876 483h4M880 484h3M883 485h3M886 486h4M890 487h3M893 488h3M896 489h3M899 490h4M903 491h3M906 492h3M909 493h3M912 494h4M916 495h3M919 496h3M922 497h3M925 498h4M929 499h3M932 500h3M935 501h4M939 502h3M942 503h3M945 504h3M948 505h4" fill="none" stroke="#ff0000" stroke-width="2" shape-rendering="crispEdges"/>
<path d="M87 417h2M89 418h3M92 419h3M95 420h4M99 421h3M102 422h3M105 423h4M109 424h3M112 425h3M115 426h3M118 427h4M122 428h3M125 429h3M128 430h3M131 431h4M135 432h3M138 433h3M141 434h4M145 435h3M148 436h3M151 437h3M154 438h4M158 439h3M161 440h3M164 441h4M168 442h3M171 443h3M174 444h3M177 445h4M181 446h3M184 447h3M187 448h3M190 449h4M194 450h3M197 451h3M200 452h4M204 453h3M207 454h3M210 455h3M213 456h4M217 457h3M220 458h3M223 459h3M226 460h4M230 461h3M233 462h3M236 463h4M240 464h3M243 465h3M246 466h3M249 467h4M253 468h3M256 469h3M259 470h3M262 471h4M266 472h3M269 473h3M272 474h4M276 475h3M279 476h3M282 477h3M285 478h4M289 479h3M292 480h3M295 481h3M298 482h4M302 483h3M305 484h3M308 485h4M312 486h3M315 487h3M318 488h3M321 489h4M325 490h3M328 491h3M331 492h3M334 493h4M338 494h3M341 495h3M344 496h4M348 497h3M351 498h3M354 499h3M357 500h4M361 501h3M364 502h3M367 503h4M371 504h3M374 505h3M377 506h3M380 507h4M384 508h3M387 509h3M390 510h3M393 511h4M397 512h3M400 513h3M403 514h4M407 515h3M410 516h3M413 517h3M416 518h4M420 519h3M423 520h3M426 521h3M429 522h4M433 523h3M436 524h3M439 525h4M443 526h3M446 527h3M449 528h3M452 529h4M456 530h3M459 531h3M462 532h3M465 533h4M469 534h3M472 535h3M475 536h4M479 537h3M482 538h3M485 539h3M488 540h4M492 541h3M495 542h3M498 543h3M501 544h4M505 545h3M508 546h3M511 547h4M515 548h3M518 549h3M521 550h3M524 551h4M528 552h3M531 553h3M534 554h4M538 555h3M541 556h3M544 557h3M547 558h4M551 559h3M554 560h3M557 561h3M560 562h4M564 563h3M567 564h3M570 565h4M574 566h3M577 567h3M580 568h3M583 569h4M587 570h3M590 571h3M593 572h3M596 573h4M600 574h3M603 575h3M606 576h4M610 577h3M613 578h3M616 579h3M619 580h4M623 581h3M626 582h3M629 583h3M632 584h4M636 585h3M639 586h3M642 587h4M646 588h3M649 589h3M652 590h3M655 591h4M659 592h3M662 593h3M665 594h3M668 595h4M672 596h3M675 597h3M678 598h4M682 599h3M685 600h3M688 601h3M691 602h4M695 603h3M698 604h3M701 605h4M705 606h3M708 607h3M711 608h3M714 609h4M718 610h3M721 611h3M724 612h3M727 613h4M731 614h3M734 615h3M737 616h4M741 617h3M744 618h3M747 619h3M750 620h4M754 621h3M757 622h3M760 623h3M763 624h4M767 625h3M770 626h3M773 627h4M777 628h3M780 629h3M783 630h3M786 631h4M790 632h3M793 633h3M796 634h3M799 635h4M803 636h3M806 637h3M809 638h4M813 639h3M816 640h3M819 641h3M822 642h4M826 643h3M829 644h3M832 645h3M835 646h4M839 647h3M842 648h3M845 649h4M849 650h3M852 651h3M855 652h3M858 653h4M862 654h3M865 655h3M868 656h3M871 657h4M875 658h3M878 659h3M881 660h4M885 661h3M888 662h3M891 663h3M894 664h4M898 665h3M901 666h3M904 667h4M908 668h3M911 669h3M914 670h3M917 671h4M921 672h3M924 673h3M927 674h3M930 675h4M934 676h3M937 677h3M940 678h4M944 679h3M947 680h3M950 681h2" fill="none" stroke="#ff0000" stroke-width="2" shape-rendering="crispEdges"/>
<path d="M137 132.5H144M139.5 130V134" stroke="#000" stroke-width="1" fill="none" shape-rendering="crispEdges"/>
<path d="M732 641.5H739M734.5 639V643" stroke="#000" stroke-width="1" fill="none" shape-rendering="crispEdges"/>
<g shape-rendering="crispEdges">
<rect x="90" y="769" width="1" height="51" fill="#cc4a44"/>
<rect x="97" y="744" width="1" height="75" fill="#cc4a44"/>
<rect x="104" y="750" width="1" height="70" fill="#cc4a44"/>
<rect x="111" y="747" width="1" height="72" fill="#cc4a44"/>
<rect x="118" y="760" width="1" height="59" fill="#cc4a44"/>
<rect x="125" y="770" width="1" height="49" fill="#cc4a44"/>
<rect x="132" y="782" width="1" height="37" fill="#cc4a44"/>
<rect x="139" y="820" width="1" height="20" fill="#62a65c"/>
<rect x="146" y="820" width="1" height="67" fill="#62a65c"/>
<rect x="153" y="820" width="1" height="89" fill="#62a65c"/>
<rect x="160" y="820" width="1" height="93" fill="#62a65c"/>
<rect x="167" y="820" width="1" height="90" fill="#62a65c"/>
<rect x="174" y="820" width="1" height="82" fill="#62a65c"/>
<rect x="181" y="820" width="1" height="68" fill="#62a65c"/>
<rect x="188" y="820" width="1" height="42" fill="#62a65c"/>
<rect x="195" y="820" width="1" height="27" fill="#62a65c"/>
<rect x="202" y="820" width="1" height="20" fill="#62a65c"/>
<rect x="209" y="820" width="1" height="7" fill="#62a65c"/>
<rect x="216" y="815" width="1" height="4" fill="#cc4a44"/>
<rect x="223" y="810" width="1" height="9" fill="#cc4a44"/>
<rect x="230" y="816" width="1" height="3" fill="#cc4a44"/>
<rect x="237" y="808" width="1" height="12" fill="#cc4a44"/>
<rect x="244" y="817" width="1" height="3" fill="#cc4a44"/>
<rect x="251" y="820" width="1" height="4" fill="#62a65c"/>
<rect x="258" y="820" width="1" height="7" fill="#62a65c"/>
<rect x="265" y="820" width="1" height="11" fill="#62a65c"/>
<rect x="272" y="820" width="1" height="13" fill="#62a65c"/>
<rect x="279" y="820" width="1" height="15" fill="#62a65c"/>
<rect x="286" y="820" width="1" height="16" fill="#62a65c"/>
<rect x="293" y="820" width="1" height="16" fill="#62a65c"/>
<rect x="300" y="820" width="1" height="10" fill="#62a65c"/>
<rect x="307" y="820" width="1" height="11" fill="#62a65c"/>
<rect x="314" y="817" width="1" height="2" fill="#cc4a44"/>
<rect x="321" y="795" width="1" height="24" fill="#cc4a44"/>
<rect x="328" y="779" width="1" height="41" fill="#cc4a44"/>
<rect x="335" y="780" width="1" height="39" fill="#cc4a44"/>
<rect x="342" y="798" width="1" height="22" fill="#cc4a44"/>
<rect x="349" y="816" width="1" height="4" fill="#cc4a44"/>
<rect x="356" y="820" width="1" height="14" fill="#62a65c"/>
<rect x="363" y="820" width="1" height="28" fill="#62a65c"/>
<rect x="370" y="820" width="1" height="35" fill="#62a65c"/>
<rect x="377" y="820" width="1" height="39" fill="#62a65c"/>
<rect x="384" y="820" width="1" height="33" fill="#62a65c"/>
<rect x="391" y="820" width="1" height="31" fill="#62a65c"/>
<rect x="398" y="820" width="1" height="30" fill="#62a65c"/>
<rect x="405" y="820" width="1" height="17" fill="#62a65c"/>
<rect x="412" y="820" width="1" height="13" fill="#62a65c"/>
<rect x="419" y="820" width="1" height="12" fill="#62a65c"/>
<rect x="426" y="820" width="1" height="12" fill="#62a65c"/>
<rect x="433" y="820" width="1" height="5" fill="#62a65c"/>
<rect x="440" y="814" width="1" height="5" fill="#cc4a44"/>
<rect x="447" y="806" width="1" height="14" fill="#cc4a44"/>
<rect x="454" y="796" width="1" height="24" fill="#cc4a44"/>
<rect x="461" y="800" width="1" height="19" fill="#cc4a44"/>
<rect x="468" y="800" width="1" height="19" fill="#cc4a44"/>
<rect x="475" y="798" width="1" height="21" fill="#cc4a44"/>
<rect x="482" y="800" width="1" height="19" fill="#cc4a44"/>
<rect x="489" y="798" width="1" height="21" fill="#cc4a44"/>
<rect x="496" y="792" width="1" height="27" fill="#cc4a44"/>
<rect x="503" y="803" width="1" height="16" fill="#cc4a44"/>
<rect x="510" y="813" width="1" height="6" fill="#cc4a44"/>
<rect x="517" y="820" width="1" height="8" fill="#62a65c"/>
<rect x="524" y="820" width="1" height="11" fill="#62a65c"/>
<rect x="531" y="820" width="1" height="10" fill="#62a65c"/>
<rect x="538" y="820" width="1" height="2" fill="#62a65c"/>
<rect x="545" y="820" width="1" height="7" fill="#62a65c"/>
<rect x="552" y="820" width="1" height="6" fill="#62a65c"/>
<rect x="559" y="817" width="1" height="2" fill="#cc4a44"/>
<rect x="566" y="806" width="1" height="14" fill="#cc4a44"/>
<rect x="573" y="805" width="1" height="14" fill="#cc4a44"/>
<rect x="580" y="810" width="1" height="9" fill="#cc4a44"/>
<rect x="587" y="820" width="1" height="1" fill="#62a65c"/>
<rect x="594" y="820" width="1" height="6" fill="#62a65c"/>
<rect x="601" y="818" width="1" height="1" fill="#cc4a44"/>
<rect x="608" y="807" width="1" height="12" fill="#cc4a44"/>
<rect x="615" y="799" width="1" height="20" fill="#cc4a44"/>
<rect x="622" y="797" width="1" height="23" fill="#cc4a44"/>
<rect x="629" y="812" width="1" height="8" fill="#cc4a44"/>
<rect x="636" y="820" width="1" height="6" fill="#62a65c"/>
<rect x="643" y="820" width="1" height="16" fill="#62a65c"/>
<rect x="650" y="820" width="1" height="27" fill="#62a65c"/>
<rect x="657" y="820" width="1" height="31" fill="#62a65c"/>
<rect x="664" y="820" width="1" height="23" fill="#62a65c"/>
<rect x="671" y="820" width="1" height="14" fill="#62a65c"/>
<rect x="678" y="820" width="1" height="6" fill="#62a65c"/>
<rect x="685" y="820" width="1" height="5" fill="#62a65c"/>
<rect x="692" y="820" width="1" height="22" fill="#62a65c"/>
<rect x="699" y="820" width="1" height="24" fill="#62a65c"/>
<rect x="706" y="820" width="1" height="26" fill="#62a65c"/>
<rect x="713" y="820" width="1" height="23" fill="#62a65c"/>
<rect x="720" y="820" width="1" height="29" fill="#62a65c"/>
<rect x="727" y="820" width="1" height="27" fill="#62a65c"/>
<rect x="734" y="820" width="1" height="23" fill="#62a65c"/>
<rect x="741" y="820" width="1" height="14" fill="#62a65c"/>
<rect x="748" y="814" width="1" height="6" fill="#cc4a44"/>
<rect x="755" y="786" width="1" height="33" fill="#cc4a44"/>
<rect x="762" y="775" width="1" height="44" fill="#cc4a44"/>
<rect x="769" y="771" width="1" height="48" fill="#cc4a44"/>
<rect x="776" y="781" width="1" height="38" fill="#cc4a44"/>
<rect x="783" y="788" width="1" height="31" fill="#cc4a44"/>
<rect x="790" y="795" width="1" height="24" fill="#cc4a44"/>
<rect x="797" y="796" width="1" height="23" fill="#cc4a44"/>
<rect x="804" y="797" width="1" height="23" fill="#cc4a44"/>
</g>
<path d="M132 746.5h2M130 747.5h2M134 747.5h4M129 748.5h1M138 748.5h2M128 749.5h1M140 749.5h1M126 750.5h2M141 750.5h1M125 751.5h1M142 751.5h1M124 752.5h1M143 752.5h1M123 753.5h1M143 753.5h1M121 754.5h2M144 754.5h1M120 755.5h1M145 755.5h1M119 756.5h1M146 756.5h1M118 757.5h1M147 757.5h1M117 758.5h1M147 758.5h1M116 759.5h1M148 759.5h1M115 760.5h1M148 760.5h1M114 761.5h1M149 761.5h1M113 762.5h1M150 762.5h1M112 763.5h1M150 763.5h1M111 764.5h1M151 764.5h1M110 765.5h1M151 765.5h1M109 766.5h1M152 766.5h1M109 767.5h1M152 767.5h1M108 768.5h1M153 768.5h1M107 769.5h1M154 769.5h1M106 770.5h1M154 770.5h1M106 771.5h1M155 771.5h1M105 772.5h1M155 772.5h1M104 773.5h1M156 773.5h1M103 774.5h1M157 774.5h1M102 775.5h1M157 775.5h1M101 776.5h1M158 776.5h1M101 777.5h1M158 777.5h1M100 778.5h1M159 778.5h1M99 779.5h1M159 779.5h1M98 780.5h1M160 780.5h1M97 781.5h1M161 781.5h1M96 782.5h1M161 782.5h1M95 783.5h1M162 783.5h1M95 784.5h1M162 784.5h1M94 785.5h1M163 785.5h1M93 786.5h1M164 786.5h1M92 787.5h1M164 787.5h1M92 788.5h1M165 788.5h1M91 789.5h1M165 789.5h1M90 790.5h1M166 790.5h1M166 791.5h1M167 792.5h1M168 793.5h1M168 794.5h1M169 795.5h1M170 796.5h1M171 797.5h1M171 798.5h1M172 799.5h1M173 800.5h1M173 801.5h1M174 802.5h1M175 803.5h1M176 804.5h1M177 805.5h1M178 806.5h1M179 807.5h1M180 808.5h1M181 809.5h1M182 810.5h2M184 811.5h1M185 812.5h1M186 813.5h2M346 813.5h7M188 814.5h2M341 814.5h5M353 814.5h4M190 815.5h2M337 815.5h4M357 815.5h2M192 816.5h2M335 816.5h2M359 816.5h2M626 816.5h7M194 817.5h3M241 817.5h7M333 817.5h2M361 817.5h2M621 817.5h5M633 817.5h5M197 818.5h4M234 818.5h7M248 818.5h7M331 818.5h2M363 818.5h1M619 818.5h2M638 818.5h4M201 819.5h5M220 819.5h14M255 819.5h5M329 819.5h2M364 819.5h2M617 819.5h2M642 819.5h3M206 820.5h14M260 820.5h4M328 820.5h1M366 820.5h1M614 820.5h3M645 820.5h2M264 821.5h5M326 821.5h2M367 821.5h1M610 821.5h4M647 821.5h2M269 822.5h7M325 822.5h1M368 822.5h2M607 822.5h3M649 822.5h2M803 822.5h2M276 823.5h5M324 823.5h1M370 823.5h1M502 823.5h17M579 823.5h12M603 823.5h4M651 823.5h2M799 823.5h4M281 824.5h4M322 824.5h2M371 824.5h2M498 824.5h4M519 824.5h4M575 824.5h4M591 824.5h12M653 824.5h2M796 824.5h3M285 825.5h3M321 825.5h1M373 825.5h1M496 825.5h2M523 825.5h5M570 825.5h5M655 825.5h2M792 825.5h4M288 826.5h4M319 826.5h2M374 826.5h1M494 826.5h2M528 826.5h14M563 826.5h7M657 826.5h2M789 826.5h3M292 827.5h5M317 827.5h2M375 827.5h2M492 827.5h2M542 827.5h7M556 827.5h7M659 827.5h2M787 827.5h2M297 828.5h5M315 828.5h2M377 828.5h1M490 828.5h2M549 828.5h7M661 828.5h2M785 828.5h2M302 829.5h4M311 829.5h4M378 829.5h2M488 829.5h2M663 829.5h5M783 829.5h2M306 830.5h5M380 830.5h2M484 830.5h4M668 830.5h7M781 830.5h2M382 831.5h2M481 831.5h3M675 831.5h7M779 831.5h2M384 832.5h2M479 832.5h2M682 832.5h5M777 832.5h2M386 833.5h2M477 833.5h2M687 833.5h2M776 833.5h1M388 834.5h2M474 834.5h3M689 834.5h2M774 834.5h2M390 835.5h2M472 835.5h2M691 835.5h3M773 835.5h1M392 836.5h2M470 836.5h2M694 836.5h2M772 836.5h1M394 837.5h2M467 837.5h3M696 837.5h2M770 837.5h2M396 838.5h2M463 838.5h4M698 838.5h2M769 838.5h1M398 839.5h2M460 839.5h3M700 839.5h2M768 839.5h1M400 840.5h2M456 840.5h4M702 840.5h2M767 840.5h1M402 841.5h2M453 841.5h3M704 841.5h2M766 841.5h1M404 842.5h5M451 842.5h2M706 842.5h2M765 842.5h1M409 843.5h5M449 843.5h2M708 843.5h4M764 843.5h1M414 844.5h4M446 844.5h3M712 844.5h2M763 844.5h1M418 845.5h5M442 845.5h4M714 845.5h2M762 845.5h1M423 846.5h7M437 846.5h5M716 846.5h2M761 846.5h1M430 847.5h7M718 847.5h2M760 847.5h1M720 848.5h2M758 848.5h2M722 849.5h2M757 849.5h1M724 850.5h2M756 850.5h1M726 851.5h3M755 851.5h1M729 852.5h2M753 852.5h2M731 853.5h2M751 853.5h2M733 854.5h5M749 854.5h2M738 855.5h11" fill="none" stroke="#0000a0" stroke-width="1" shape-rendering="crispEdges"/>
<path d="M122 726.5h7M115 727.5h7M129 727.5h4M111 728.5h4M132 728.5h1M110 729.5h1M132 729.5h1M109 730.5h1M133 730.5h1M109 731.5h1M133 731.5h1M108 732.5h1M133 732.5h1M107 733.5h1M133 733.5h1M106 734.5h1M134 734.5h1M106 735.5h1M134 735.5h1M105 736.5h1M134 736.5h1M104 737.5h1M134 737.5h1M103 738.5h1M135 738.5h1M102 739.5h1M135 739.5h1M100 740.5h2M135 740.5h1M99 741.5h1M135 741.5h1M98 742.5h1M136 742.5h1M97 743.5h1M136 743.5h1M97 744.5h1M136 744.5h1M96 745.5h1M136 745.5h1M96 746.5h1M136 746.5h1M96 747.5h1M137 747.5h1M95 748.5h1M137 748.5h1M95 749.5h1M137 749.5h1M95 750.5h1M137 750.5h1M95 751.5h1M138 751.5h1M94 752.5h1M138 752.5h1M94 753.5h1M138 753.5h1M94 754.5h1M138 754.5h1M93 755.5h1M139 755.5h1M93 756.5h1M139 756.5h1M93 757.5h1M139 757.5h1M92 758.5h1M139 758.5h1M92 759.5h1M139 759.5h1M92 760.5h1M140 760.5h1M92 761.5h1M140 761.5h1M91 762.5h1M140 762.5h1M91 763.5h1M140 763.5h1M91 764.5h1M140 764.5h1M90 765.5h1M141 765.5h1M90 766.5h1M141 766.5h1M141 767.5h1M141 768.5h1M142 769.5h1M142 770.5h1M142 771.5h1M142 772.5h1M142 773.5h1M143 774.5h1M143 775.5h1M143 776.5h1M143 777.5h1M143 778.5h1M144 779.5h1M144 780.5h1M144 781.5h1M144 782.5h1M145 783.5h1M145 784.5h1M145 785.5h1M145 786.5h1M145 787.5h1M146 788.5h1M146 789.5h1M146 790.5h1M146 791.5h1M147 792.5h1M147 793.5h1M147 794.5h1M148 795.5h1M148 796.5h1M148 797.5h1M149 798.5h1M334 798.5h2M149 799.5h1M330 799.5h4M336 799.5h2M149 800.5h1M328 800.5h2M338 800.5h1M150 801.5h1M328 801.5h1M339 801.5h1M150 802.5h1M327 802.5h1M340 802.5h2M150 803.5h1M327 803.5h1M342 803.5h1M151 804.5h1M326 804.5h1M343 804.5h1M151 805.5h1M326 805.5h1M343 805.5h1M151 806.5h1M325 806.5h1M344 806.5h1M621 806.5h2M152 807.5h1M325 807.5h1M345 807.5h1M619 807.5h2M623 807.5h1M152 808.5h1M324 808.5h1M346 808.5h1M617 808.5h2M624 808.5h1M152 809.5h1M324 809.5h1M346 809.5h1M615 809.5h2M625 809.5h2M804 809.5h1M153 810.5h1M323 810.5h1M347 810.5h1M613 810.5h2M627 810.5h1M802 810.5h2M153 811.5h1M323 811.5h1M348 811.5h1M612 811.5h1M628 811.5h1M800 811.5h2M153 812.5h1M322 812.5h1M348 812.5h1M496 812.5h1M611 812.5h1M629 812.5h1M798 812.5h2M154 813.5h1M237 813.5h2M322 813.5h1M349 813.5h1M495 813.5h1M497 813.5h2M609 813.5h2M630 813.5h1M796 813.5h2M154 814.5h1M223 814.5h2M235 814.5h2M239 814.5h2M321 814.5h1M350 814.5h1M494 814.5h1M499 814.5h2M608 814.5h1M631 814.5h1M792 814.5h4M155 815.5h1M221 815.5h2M225 815.5h2M233 815.5h2M241 815.5h2M321 815.5h1M351 815.5h1M493 815.5h1M501 815.5h2M607 815.5h1M632 815.5h1M769 815.5h23M155 816.5h1M219 816.5h2M227 816.5h2M231 816.5h2M243 816.5h2M320 816.5h1M351 816.5h1M492 816.5h1M503 816.5h1M606 816.5h1M633 816.5h1M768 816.5h1M156 817.5h1M217 817.5h2M229 817.5h2M245 817.5h2M320 817.5h1M352 817.5h1M491 817.5h1M504 817.5h2M606 817.5h1M633 817.5h1M767 817.5h1M156 818.5h1M216 818.5h1M247 818.5h2M319 818.5h1M353 818.5h1M490 818.5h1M506 818.5h1M572 818.5h5M605 818.5h1M634 818.5h1M766 818.5h1M157 819.5h1M215 819.5h1M249 819.5h2M319 819.5h1M354 819.5h1M488 819.5h2M507 819.5h1M568 819.5h4M577 819.5h5M604 819.5h1M635 819.5h1M765 819.5h1M157 820.5h1M214 820.5h1M251 820.5h2M318 820.5h1M354 820.5h1M486 820.5h2M508 820.5h2M566 820.5h2M582 820.5h2M603 820.5h1M636 820.5h1M764 820.5h1M158 821.5h1M212 821.5h2M253 821.5h2M318 821.5h1M355 821.5h1M484 821.5h2M510 821.5h1M565 821.5h1M584 821.5h2M603 821.5h1M637 821.5h1M763 821.5h1M158 822.5h1M211 822.5h1M255 822.5h2M317 822.5h1M356 822.5h1M479 822.5h5M511 822.5h1M564 822.5h1M586 822.5h2M602 822.5h1M638 822.5h1M762 822.5h1M159 823.5h1M210 823.5h1M257 823.5h3M317 823.5h1M357 823.5h1M475 823.5h4M512 823.5h1M563 823.5h1M588 823.5h2M600 823.5h2M639 823.5h2M761 823.5h1M159 824.5h1M209 824.5h1M260 824.5h2M316 824.5h1M357 824.5h1M473 824.5h2M513 824.5h2M562 824.5h1M590 824.5h2M598 824.5h2M641 824.5h1M761 824.5h1M160 825.5h1M207 825.5h2M262 825.5h2M316 825.5h1M358 825.5h1M471 825.5h2M515 825.5h1M561 825.5h1M592 825.5h2M596 825.5h2M642 825.5h1M760 825.5h1M160 826.5h1M206 826.5h1M264 826.5h3M315 826.5h1M359 826.5h1M469 826.5h2M516 826.5h1M560 826.5h1M594 826.5h2M643 826.5h1M760 826.5h1M161 827.5h1M205 827.5h1M267 827.5h4M315 827.5h1M360 827.5h1M467 827.5h2M517 827.5h1M558 827.5h2M644 827.5h1M759 827.5h1M161 828.5h1M203 828.5h2M271 828.5h3M314 828.5h1M360 828.5h1M465 828.5h2M518 828.5h2M537 828.5h3M556 828.5h2M644 828.5h1M759 828.5h1M162 829.5h1M201 829.5h2M274 829.5h2M314 829.5h1M361 829.5h1M463 829.5h2M520 829.5h2M535 829.5h2M540 829.5h2M554 829.5h2M645 829.5h1M758 829.5h1M163 830.5h1M197 830.5h4M276 830.5h2M313 830.5h1M362 830.5h1M454 830.5h9M522 830.5h2M533 830.5h2M542 830.5h2M549 830.5h5M646 830.5h1M758 830.5h1M164 831.5h1M194 831.5h3M278 831.5h3M312 831.5h1M362 831.5h1M453 831.5h1M524 831.5h9M544 831.5h5M647 831.5h1M757 831.5h1M164 832.5h1M192 832.5h2M281 832.5h4M299 832.5h3M310 832.5h2M363 832.5h1M452 832.5h1M647 832.5h1M757 832.5h1M165 833.5h1M190 833.5h2M285 833.5h3M297 833.5h2M302 833.5h2M309 833.5h1M364 833.5h1M450 833.5h2M648 833.5h1M756 833.5h1M166 834.5h1M188 834.5h2M288 834.5h4M295 834.5h2M304 834.5h2M308 834.5h1M365 834.5h1M449 834.5h1M649 834.5h1M677 834.5h9M756 834.5h1M166 835.5h1M187 835.5h1M292 835.5h3M306 835.5h2M365 835.5h1M448 835.5h1M649 835.5h1M675 835.5h2M686 835.5h1M755 835.5h1M167 836.5h1M186 836.5h1M366 836.5h1M447 836.5h1M650 836.5h1M673 836.5h2M686 836.5h1M755 836.5h1M168 837.5h1M186 837.5h1M367 837.5h1M446 837.5h1M651 837.5h2M670 837.5h3M687 837.5h1M754 837.5h1M169 838.5h1M185 838.5h1M368 838.5h1M445 838.5h1M653 838.5h1M666 838.5h4M687 838.5h1M754 838.5h1M170 839.5h2M184 839.5h1M368 839.5h1M443 839.5h2M654 839.5h1M663 839.5h3M688 839.5h1M753 839.5h1M172 840.5h1M183 840.5h1M369 840.5h1M442 840.5h1M655 840.5h2M659 840.5h4M688 840.5h1M753 840.5h1M173 841.5h1M183 841.5h1M370 841.5h1M441 841.5h1M657 841.5h2M689 841.5h1M753 841.5h1M174 842.5h4M182 842.5h1M371 842.5h1M440 842.5h1M689 842.5h1M752 842.5h1M178 843.5h4M372 843.5h1M439 843.5h1M690 843.5h1M752 843.5h1M373 844.5h2M438 844.5h1M690 844.5h1M751 844.5h1M375 845.5h1M436 845.5h2M691 845.5h1M751 845.5h1M376 846.5h1M435 846.5h1M691 846.5h1M750 846.5h1M377 847.5h4M434 847.5h1M692 847.5h2M750 847.5h1M381 848.5h4M433 848.5h1M694 848.5h4M750 848.5h1M385 849.5h2M409 849.5h7M431 849.5h2M698 849.5h2M749 849.5h1M387 850.5h2M405 850.5h4M416 850.5h5M429 850.5h2M700 850.5h2M749 850.5h1M389 851.5h2M403 851.5h2M421 851.5h4M427 851.5h2M702 851.5h1M748 851.5h1M391 852.5h2M401 852.5h2M425 852.5h2M703 852.5h1M748 852.5h1M393 853.5h4M399 853.5h2M704 853.5h2M747 853.5h1M397 854.5h2M706 854.5h4M747 854.5h1M710 855.5h4M746 855.5h1M714 856.5h1M745 856.5h1M715 857.5h1M745 857.5h1M716 858.5h1M744 858.5h1M717 859.5h1M743 859.5h1M718 860.5h1M742 860.5h1M719 861.5h1M742 861.5h1M720 862.5h2M740 862.5h2M722 863.5h4M738 863.5h2M726 864.5h5M736 864.5h2M731 865.5h5" fill="none" stroke="#000" stroke-width="1" shape-rendering="crispEdges"/>
<g font-family="Liberation Sans, Noto Sans CJK SC, sans-serif" font-size="12" fill="#2f3447" text-anchor="end">
<text x="82.5" y="47">82.30</text>
<text x="82.5" y="102">79.88</text>
<text x="82.5" y="157">77.45</text>
<text x="82.5" y="212">75.03</text>
<text x="82.5" y="267">72.61</text>
<text x="82.5" y="322">70.18</text>
<text x="82.5" y="377">67.76</text>
<text x="82.5" y="432">65.34</text>
<text x="82.5" y="487">62.91</text>
<text x="82.5" y="542">60.49</text>
<text x="82.5" y="597">58.06</text>
<text x="82.5" y="652">55.64</text>
<text x="82.5" y="729">1.87</text>
<text x="82.5" y="753">1.38</text>
<text x="82.5" y="778">0.88</text>
<text x="82.5" y="803">0.39</text>
<text x="82.5" y="828">-0.11</text>
<text x="82.5" y="852">-0.60</text>
<text x="82.5" y="877">-1.09</text>
<text x="82.5" y="902">-1.59</text>
</g>
<text x="144" y="129" font-family="Liberation Sans, Noto Sans CJK SC, sans-serif" font-size="12" font-weight="bold" letter-spacing="0.1" fill="#de4a35">78.40</text>
<text x="739" y="653" font-family="Liberation Sans, Noto Sans CJK SC, sans-serif" font-size="12" font-weight="bold" letter-spacing="0.2" fill="#68a64e">55.96</text>
<g font-family="Liberation Sans, Noto Sans CJK SC, sans-serif" font-size="12" font-weight="bold" fill="#222">
<text x="183" y="936.5">2025/07</text>
<text x="344" y="936.5">2025/08</text>
<text x="491" y="936.5">2025/09</text>
<text x="645" y="936.5">2025/10</text>
</g>
<path d="M182.5 924V928M343.5 924V928M490.5 924V928M644.5 924V928" stroke="#c5ced8" shape-rendering="crispEdges"/>
<text x="824" y="922" font-family="Liberation Sans, Noto Sans CJK SC, sans-serif" font-size="30" letter-spacing="2.6" fill="#d6c5b8" stroke="#d6c5b8" stroke-width="0.9" opacity="0.8">FX678</text>
<text x="823" y="921" font-family="Liberation Sans, Noto Sans CJK SC, sans-serif" font-size="30" letter-spacing="2.6" fill="#dbe7f7" stroke="#dbe7f7" stroke-width="0.9">FX678</text>
</svg>
<div id="tb">
  <div class="b" style="left:66px;width:1px"></div>
  <div class="b" style="left:137px;width:1px"></div>
  <div class="b" style="left:204px;width:1px"></div>
  <div class="b" style="left:250px;width:1px"></div>
  <div class="b" style="left:298px;width:1px"></div>
  <div class="b" style="left:345px;width:1px"></div>
  <div class="b" style="left:392px;width:1px"></div>
  <div class="b" style="left:420px;width:1px"></div>
  <div class="b" style="left:448px;width:1px"></div>
  <div class="b" style="left:476px;width:1px"></div>
  <div class="b" style="left:504px;width:1px"></div>
  <div class="b" style="left:532px;width:1px"></div>
  <div class="b" style="left:560px;width:1px"></div>
  <div class="b" style="left:588px;width:1px"></div>
  <div class="b" style="left:616px;width:1px"></div>
  <div class="b" style="left:644px;width:1px"></div>
  <div class="b" style="left:672px;width:1px"></div>
  <div class="b" style="left:743px;width:1px"></div>
  <div class="b" style="left:771px;width:1px"></div>
  <div class="b" style="left:818px;width:1px"></div>
  <div class="b" style="left:865px;width:1px"></div>
  <div class="b" style="left:912px;width:1px"></div>
  <div class="b" style="left:940px;width:1px"></div>

  <!-- back -->
  <svg style="left:10px;top:2px" width="15" height="12" viewBox="0 0 15 12"><path d="M6 0 L0 5 L6 10 V7 C10 7 12.5 8.5 13.5 11.5 C14 6.5 11 3.3 6 3 Z" fill="#363b45"/></svg>
  <div class="t" style="left:26px">返回</div>
  <!-- home -->
  <svg style="left:80.6px;top:2px" width="13.6" height="12.8" viewBox="0 0 14 12" preserveAspectRatio="none"><path d="M7 0 L0 6.3 H2 V12 H5.6 V8 H8.4 V12 H12 V6.3 H14 Z" fill="#363b45"/></svg>
  <div class="t" style="left:98px">首页</div>
  <!-- refresh -->
  <svg style="left:164px;top:1px" width="18" height="15" viewBox="0 0 18 15"><path d="M12.2 11.6 A6 6 0 1 1 13.6 6.2" fill="none" stroke="#363b45" stroke-width="1.6"/><path d="M10.6 5.6 L17 5.2 L14.2 10.2 Z" fill="#363b45"/></svg>
  <!-- chart -->
  <svg style="left:219px;top:1px" width="19" height="15" viewBox="0 0 19 15"><path d="M0.5 8.5 L6.5 2.8 L10 6.5 L17 0.8" fill="none" stroke="#363b45" stroke-width="1.5"/><path d="M0 11 H2.8 V15 H0 Z M4.4 7.5 H8.4 V15 H4.4 Z M10 9.6 H13.2 V15 H10 Z M14.8 4.4 H18.4 V15 H14.8 Z" fill="#363b45"/></svg>
  <!-- candles -->
  <svg style="left:265px;top:1px" width="20" height="15" viewBox="0 0 20 15"><path d="M1.5 4V10M7 0V14M13 3V13M18 2V13" stroke="#363b45" stroke-width="1.2" fill="none"/><path d="M0 5H3V9H0Z M5.3 2.5H8.7V10H5.3Z M11.5 6.5H14.5V10.5H11.5Z M16.5 5.5H19.5V9.5H16.5Z" fill="#363b45"/></svg>
  <div class="t" style="left:309px;font-size:17px;top:0px">tick</div>
  <div class="t" style="left:359px">5日</div>
  <div class="t" style="left:403px">5</div>
  <div class="t" style="left:428px">15</div>
  <div class="t" style="left:456px">30</div>
  <div class="t" style="left:484px">60</div>
  <div class="t" style="left:511px">2H</div>
  <div class="t" style="left:539px">4H</div>
  <div class="t" style="left:568px">日</div>
  <div class="t" style="left:596px">周</div>
  <div class="t" style="left:623px">月</div>
  <div class="t" style="left:652px">年</div>
  <!-- more -->
  <svg style="left:687px;top:2px" width="14" height="13" viewBox="0 0 14 13"><path d="M0 0.3H14V3.1H0Z M0 5.1H14V7.9H0Z M0 9.9H14V12.7H0Z" fill="#363b45"/></svg>
  <div class="t" style="left:704px">更多</div>
  <!-- fx -->
  <svg style="left:750px;top:1px" width="17" height="15" viewBox="0 0 17 15"><path d="M7.6 1.2 C5 0.3 4.2 1.8 4 4 L3 13.5 C2.8 14.8 1.6 14.8 0.6 14.2 M1 6 H7" fill="none" stroke="#363b45" stroke-width="1.7"/><path d="M9 7.5 L15.5 14 M15.5 7.5 L9 14" stroke="#363b45" stroke-width="1.8" fill="none"/></svg>
  <!-- zoom out -->
  <svg style="left:787px;top:1px" width="18" height="16" viewBox="0 0 18 16"><circle cx="7.5" cy="7" r="6.2" fill="none" stroke="#363b45" stroke-width="1.2"/><path d="M4.5 7H10.5" stroke="#363b45" stroke-width="1.3"/><path d="M12 11.5L16 15.5" stroke="#363b45" stroke-width="1.4"/></svg>
  <!-- zoom in -->
  <svg style="left:835px;top:1px" width="18" height="16" viewBox="0 0 18 16"><circle cx="7.2" cy="6.8" r="6.2" fill="none" stroke="#363b45" stroke-width="1.2"/><path d="M4.2 6.8H10.2M7.2 3.8V9.8" stroke="#363b45" stroke-width="1.3"/><path d="M11.7 11.3L15.5 15" stroke="#363b45" stroke-width="1.4"/></svg>
  <!-- pencil -->
  <svg style="left:882px;top:1px" width="16" height="16" viewBox="0 0 16 16"><path d="M2.5 11.5 L3.6 8.2 L10.5 1.3 L13 3.8 L6 10.7 Z" fill="#363b45"/><path d="M0.5 14.5H15" stroke="#363b45" stroke-width="1.2"/></svg>
  <!-- tri up -->
  <svg style="left:916px;top:0px" width="21" height="18" viewBox="0 0 21 18"><path d="M1 1.5H20" stroke="#363b45" stroke-width="1"/><path d="M10.5 5.2L19.5 16.5H1.5Z" fill="none" stroke="#363b45" stroke-width="1.1"/><path d="M1 17H20" stroke="#9a9aa2" stroke-width="1"/></svg>
  <!-- tri down partial -->
  <svg style="left:944px;top:0px" width="21" height="18" viewBox="0 0 21 18"><path d="M1.5 1.5H19.5L10.5 13Z" fill="none" stroke="#363b45" stroke-width="1.1"/><path d="M1 1H20" stroke="#9a9aa2" stroke-width="1"/><path d="M1 16.5H20" stroke="#363b45" stroke-width="1"/></svg>
</div>

<div id="side">
  <div class="tab" style="top:0;height:51px;padding-top:5px;box-sizing:border-box"><span>分</span><span>时</span><span>图</span></div>
  <div class="tab on" style="top:51px;height:46px;padding-top:3px;box-sizing:border-box"><span style="font-family:'Liberation Serif','Noto Serif CJK SC',serif">K</span><span>线</span><span>图</span></div>
  <div class="tab" style="top:97px;height:52px;padding-top:6px;box-sizing:border-box;border-bottom:1px solid #cfcfd8"><span>闪</span><span>电</span><span>图</span></div>
  <div class="tab" style="top:149px;height:63px;padding-top:6px;box-sizing:border-box"><span>合</span><span>约</span><span>资</span><span>料</span></div>
</div>

<div class="hd" style="left:88px;color:#000;letter-spacing:0">美原油连续</div>
<div class="hd" style="left:147px;color:#ff7a00;letter-spacing:0">【日线】</div>
<svg style="position:absolute;left:196px;top:28px" width="10" height="10" viewBox="0 0 10 10"><circle cx="4.7" cy="5.2" r="4" fill="none" stroke="#ff7a00" stroke-width="0.9"/><path d="M0.7 5.2H8.7M4.7 1.2V9.2" stroke="#ff7a00" stroke-width="0.9"/></svg>
<svg style="position:absolute;left:213px;top:23px" width="13" height="14" viewBox="0 0 13 14"><rect x="1" y="1" width="11" height="12.5" fill="#888"/><rect x="0.5" y="0.5" width="11" height="12" fill="#fff" stroke="#1a1a8a" stroke-width="1"/><path d="M1.5 7L4.5 3.5L6.5 5.5L8.5 4.2L11 4.2" fill="none" stroke="#ff2020" stroke-width="1"/><path d="M1.5 10.5L4.5 7L7 9L9 7.5L11 7.5" fill="none" stroke="#2020ff" stroke-width="1"/></svg>
<div class="hd" style="left:228px;color:#000">MA1(50,0,200,0)</div>
<div class="hd" style="left:326px;color:#000">MA50:61.90</div>
<div class="hd" style="left:401px;color:#0000cc">MA0:61.22</div>
<div class="hd" style="left:469px;color:#ff00ff">MA200:65.08</div>
<div class="hd" style="left:553px;color:#ff8000">MA0:61.22</div>

<svg style="position:absolute;left:17.5px;top:703px" width="15" height="15" viewBox="0 0 15 15"><circle cx="7.5" cy="7.5" r="3.3" fill="#fff" stroke="#000" stroke-width="0.9"/><circle cx="7.5" cy="7.5" r="1.9" fill="#f00"/><path d="M7.5 0.7V2.4M7.5 12.6V14.3M0.7 7.5H2.4M12.6 7.5H14.3M2.7 2.7L3.9 3.9M11.1 11.1L12.3 12.3M2.7 12.3L3.9 11.1M11.1 3.9L12.3 2.7" stroke="#f00" stroke-width="0.9"/></svg>
<div class="mh" style="left:88px;color:#000">MACD(13,8,9) DIFF:0.17</div>
<div class="mh" style="left:231px;color:#0000a0">DEA:-0.05</div>
<div class="mh" style="left:296px;color:#ff00ff">MACD:0.45</div>

<div id="per">日线 ▲</div>
<div style="position:absolute;left:101px;top:940px;width:510px;height:1px;background:#e3e8ee"></div>
<div id="tabs">
  <span style="left:0px;width:39px;background:#ff6a00;color:#fff;font-weight:bold">指标</span>
  <span style="left:39px;width:40px;color:#000">模板</span>
  <span style="left:79px;width:58px;color:#ff6a00">指标</span>
  <span style="left:137px;width:28px;"></span>
  <span style="left:165px;width:40px;"></span>
  <span style="left:205px;width:40px;"></span>
  <span style="left:245px;width:34px;"></span>
  <span style="left:279px;width:40px;"></span>
  <span style="left:319px;width:33px;"></span>
  <span style="left:352px;width:34px;"></span>
  <span style="left:386px;width:41px;"></span>
  <span style="left:427px;width:34px;"></span>
  <span style="left:461px;width:28px;"></span>
  <span style="left:489px;width:35px;"></span>
  <span style="left:524px;width:39px;color:#000">设置</span>
</div>
</body>
</html>
